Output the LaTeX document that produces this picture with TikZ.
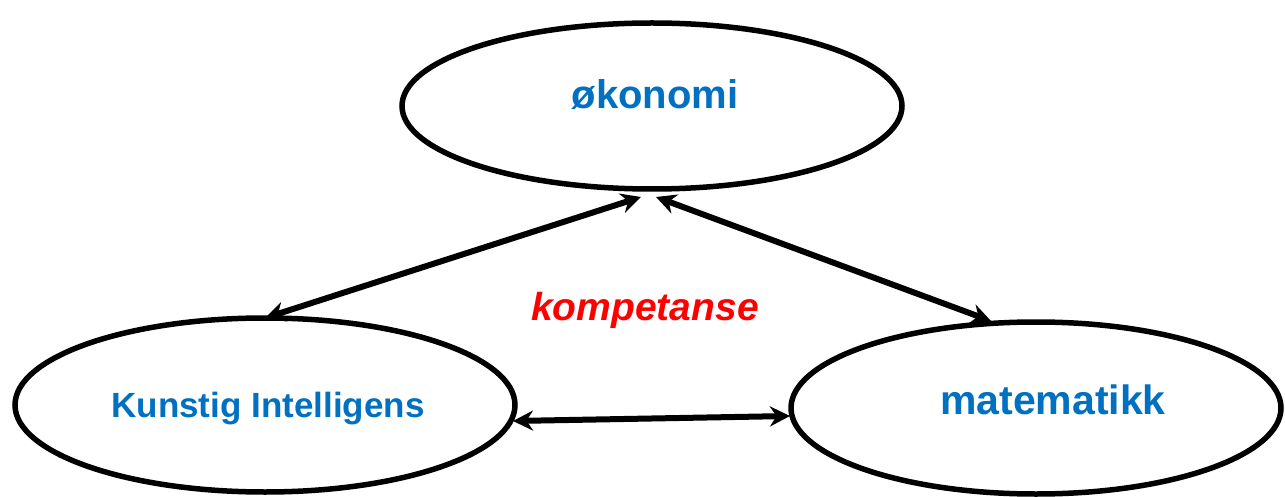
\documentclass[tikz,border=0pt]{standalone}
\usepackage{fontspec}
\setmainfont{Liberation Sans}
\usetikzlibrary{arrows.meta}
\definecolor{lblue}{HTML}{0070C0}
\definecolor{lred}{HTML}{FF0000}
\begin{document}
\begin{tikzpicture}[x=1pt,y=-1pt,
  oval/.style={line width=5.5pt},
  lbl/.style={text=lblue,font=\bfseries\fontsize{40}{46}\selectfont},
  link/.style={line width=6pt,{Stealth[length=20pt,width=20pt]}-{Stealth[length=20pt,width=20pt]}}]
\useasboundingbox (0,0) rectangle (1285,497);
\draw[oval] (652,106) ellipse [x radius=250,y radius=83];
\draw[oval] (265,405) ellipse [x radius=250,y radius=87];
\draw[oval] (1036,408) ellipse [x radius=245,y radius=86];
\node[lbl] (ok) at (655,95) {økonomi};
\node[lbl,font=\bfseries\fontsize{35}{40}\selectfont] (ki) at (268,409) {Kunstig Intelligens};
\node[lbl,font=\bfseries\fontsize{41}{46}\selectfont] (ma) at (1053,400) {matematikk};
\node[text=lred,font=\bfseries\itshape\fontsize{39}{45}\selectfont] (ko) at (645,310) {kompetanse};
\coordinate (t1) at (641,197);
\coordinate (t2) at (656,197);
\coordinate (l1) at (265,318);
\coordinate (r1) at (991,321);
\coordinate (l2) at (513,421);
\coordinate (r2) at (790,416);
\draw[link] (l1) -- (t1);
\draw[link] (t2) -- (r1);
\draw[link] (l2) -- (r2);
\end{tikzpicture}
\end{document}
